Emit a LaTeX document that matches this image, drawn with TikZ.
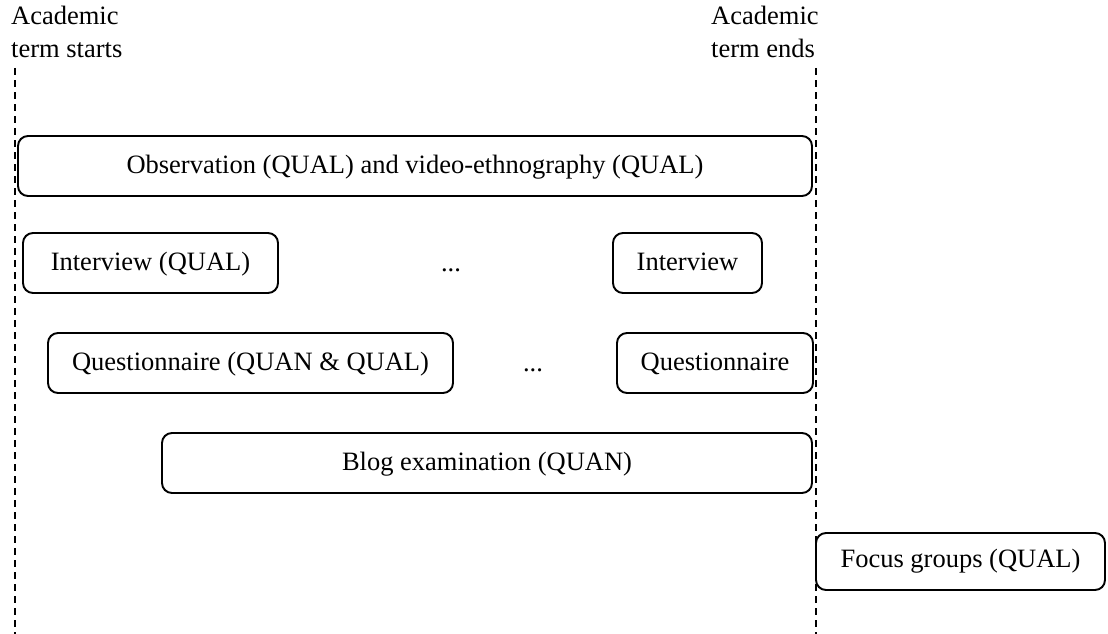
\documentclass[tikz,border=0pt]{standalone}
\usepackage{fontspec}
\setmainfont{Liberation Serif}
\begin{document}
\begin{tikzpicture}[x=1pt,y=-1pt,
  every node/.style={font=\fontsize{26.5}{33}\selectfont, inner sep=0pt},
  phase/.style={draw, line width=1.9pt, rounded corners=10pt, align=center,
    text height=20pt, text depth=5.5pt},
  gap/.style={anchor=base},
  termline/.style={line width=1.9pt, dash pattern=on 7pt off 5pt},
  termlabel/.style={align=left, anchor=north west}]
  \useasboundingbox (0,0) rectangle (1108,634);

  % term boundaries
  \node[termlabel] (startlbl) at (11,6) {Academic\\term starts};
  \node[termlabel] (endlbl) at (711,6) {Academic\\term ends};
  \coordinate (starttop) at (15,68);
  \coordinate (startbot) at (15,634);
  \coordinate (endtop) at (816,68);
  \coordinate (endbot) at (816,634);
  \draw[termline] (starttop) -- (startbot);
  \draw[termline] (endtop) -- (endbot);

  % data collection activities
  \node[phase, minimum width=794pt, minimum height=60pt] (obs) at (415,166)
    {Observation (QUAL) and video-ethnography (QUAL)};
  \node[phase, minimum width=255pt, minimum height=60pt] (int1) at (150.5,263)
    {Interview (QUAL)};
  \node[gap] (dots1) at (451,271) {...};
  \node[phase, minimum width=149pt, minimum height=60pt] (int2) at (687.5,263)
    {Interview};
  \node[phase, minimum width=405pt, minimum height=60pt] (q1) at (250.5,363)
    {Questionnaire (QUAN \& QUAL)};
  \node[gap] (dots2) at (533,371) {...};
  \node[phase, minimum width=196pt, minimum height=60pt] (q2) at (715,363)
    {Questionnaire};
  \node[phase, minimum width=650pt, minimum height=60pt] (blog) at (487,463)
    {Blog examination (QUAN)};
  \node[phase, minimum width=289pt, minimum height=57pt,
    text height=18.5pt, text depth=6pt] (focus) at (960.5,561.5)
    {Focus groups (QUAL)};
\end{tikzpicture}
\end{document}
